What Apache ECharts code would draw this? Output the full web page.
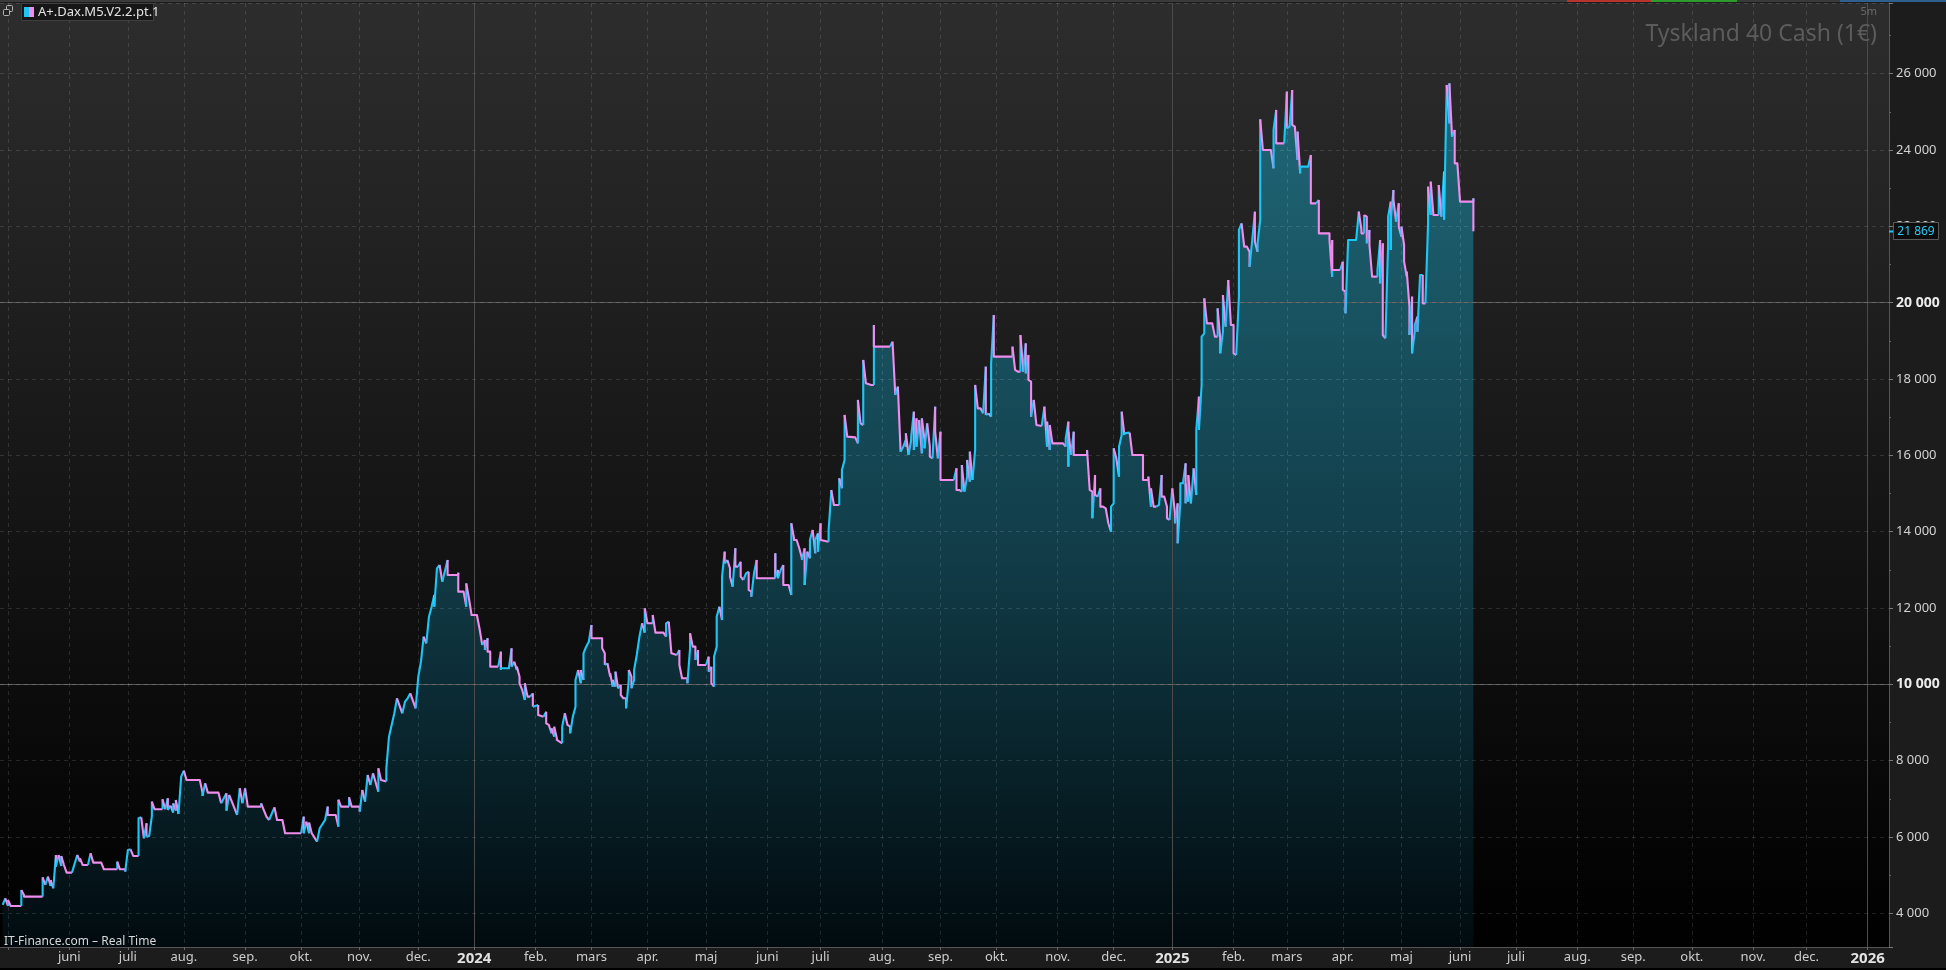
<!DOCTYPE html>
<html><head><meta charset="utf-8">
<script src="https://cdn.jsdelivr.net/npm/echarts@6/dist/echarts.min.js"></script>
<style>html,body{margin:0;padding:0;background:#1c1c1c;overflow:hidden}#c{width:1946px;height:970px}</style>
</head><body><div id="c"></div>
<script>
// ---------- data ----------
const startDate = '2023-04-26';
const endDate = '2026-01-13';
const monthNames = ['jan.','feb.','mars','apr.','maj','juni','juli','aug.','sep.','okt.','nov.','dec.'];
const seriesName = 'A+.Dax.M5.V2.2.pt.1';
const instrument = 'Tyskland 40 Cash (1€)';
const timeframe = '5m';
const sourceText = 'IT-Finance.com – Real Time';
const majorLevels = [10000, 20000];
const lastPrice = 21869;
// trading-day number (index into the weekday calendar starting at startDate)
const dayIndex = [1,2,3,3,4,8,8,9,9,16,16,17,18,19,19,20,21,21,22,23,23,24,25,27,29,30,30,31,33,34,35,38,39,44,44,45,47,47,48,49,50,52,52,53,54,55,55,56,57,57,58,61,61,62,63,63,64,65,65,66,66,67,68,69,70,75,76,76,77,78,82,83,85,85,86,89,90,91,92,93,98,98,100,101,103,104,106,107,113,114,114,115,116,116,117,119,120,122,123,123,126,127,127,128,131,131,132,135,135,136,137,138,139,140,142,142,143,145,145,146,147,148,149,151,152,153,154,156,157,158,159,160,161,162,163,163,164,165,166,168,168,172,172,172,174,175,175,176,177,179,180,
181,182,182,183,183,184,184,187,188,188,188,191,192,192,193,194,194,195,195,196,197,197,198,199,200,200,202,202,204,205,205,206,207,207,208,208,209,209,210,211,211,212,213,214,214,215,216,216,217,218,218,219,219,220,221,222,222,226,226,227,227,228,229,229,230,230,231,231,232,233,233,234,235,235,236,236,237,237,238,238,239,240,241,242,242,243,245,245,246,249,250,250,251,252,254,255,255,256,258,258,259,259,260,261,261,262,262,265,266,266,267,267,268,268,269,269,270,271,271,271,272,272,273,274,274,275,276,276,277,278,278,279,280,281,281,282,282,283,284,284,291,291,291,292,292,293,294,294,296,297,297,298,298,299,300,301,301,302,302,303,304,304,305,306,306,307,307,308,308,311,311,312,312,313,315,315,316,316,317,317,318,321,322,322,323,324,324,325,327,328,328,328,334,335,336,336,337,338,338,339,340,340,340,341,342,342,343,343,344,344,345,346,346,347,347,348,349,349,350,351,351,352,353,353,358,359,359,360,361,361,362,363,363,
364,364,365,366,366,367,368,369,370,370,371,372,372,373,373,380,380,381,382,383,383,384,384,385,385,386,386,387,387,388,389,391,392,393,393,394,394,395,399,400,400,401,401,401,402,403,403,408,408,409,410,410,411,411,412,413,413,414,415,416,417,417,418,418,419,420,420,421,421,422,422,424,425,429,429,431,431,432,432,433,434,435,436,436,437,438,438,439,439,440,441,441,442,442,443,443,444,445,445,445,446,446,447,448,449,449,450,450,451,451,452,452,453,455,456,457,457,458,458,459,459,460,461,462,463,463,464,465,465,466,467,468,469,469,470,471,471,472,472,473,473,474,477,478,478,479,479,482,483,483,484,485,485,486,487,487,488,488,491,492,492,492,494,495,495,495,499,499,500,500,500,503,504,504,505,505,506,509,510,511,511,512,512,513,513,514,514,515,517,517,518,518,519,519,520,521,521,522,522,522,523,523,524,525,525,526,526,527,527,528,528,529,529,530,530,531,531,532,532,533,534,534,535,536,536,537,537,538,540,540,541,542,542,543,544,544,544,545,546,546,547,548,553,553,553];
const values = [4218,4393,4192,4350,4192,4192,4611,4480,4437,4437,4943,4742,4961,4716,4870,4655,5528,5223,5528,5240,5502,5266,5065,5065,5528,5354,5441,5266,5266,5572,5327,5327,5153,5153,5354,5153,5153,5092,5659,5677,5502,5502,6489,6515,5965,6358,6009,6026,6550,6926,6725,6725,6987,6725,7013,6707,6821,6637,6882,6690,6969,6602,7581,7738,7493,7493,7161,7074,7406,7161,7161,6882,7144,6690,7100,6576,7275,6882,7275,6795,6795,6882,6533,6445,6777,6445,6445,6096,6096,6533,6096,6402,6096,6376,6096,5878,6227,6445,6795,6576,6576,6271,6977,6795,6795,7039,6795,6795,6664,7231,6926,7624,7362,7668,7187,7799,7493,7450,7799,8628,8934,9240,9633,9240,9545,9633,9764,9371,10200,10593,11248,11074,11772,12034,12340,12034,13039,13126,12689,13257,12864,12864,12925,12427,12427,12034,12645,12253,11816,11816,11450,
11030,11161,10899,11205,10855,10855,10462,10462,10855,10375,10419,10419,10943,10462,10593,10375,10462,10200,10026,9851,9589,10026,9676,9676,9764,9414,9458,9196,9152,9283,8978,8934,8716,8847,8628,8890,8585,8541,8497,8454,8890,9240,8934,8890,8716,9152,9414,10113,10375,10026,10375,10113,10812,10986,11117,11554,11205,11205,10943,10812,10506,10550,10200,10288,9938,10113,9938,10331,9895,9982,9720,9633,9633,9371,10113,10375,10200,9895,10113,10375,10768,11248,11598,11353,11991,11598,11598,11816,11353,11353,11248,11598,11641,10812,10768,10899,10506,10157,10157,10026,10943,11336,10986,10986,10637,10899,10506,10506,10724,10331,10462,10026,9938,10724,10986,11772,12034,11685,12165,12820,13475,13170,13257,13039,12820,12558,13563,13082,13082,13213,12820,12733,12908,12951,12471,12427,12296,12908,13257,12777,12777,13432,12820,12995,12777,12995,13126,12602,12602,12340,14218,13825,13781,13781,13563,13301,13257,13563,12602,13475,13301,13781,14043,13432,13781,13956,13475,14218,13781,13737,14043,15047,15091,14698,14698,15396,15134,15615,15877,17056,16488,16470,16313,17449,16837,16793,18497,17885,17842,17842,19414,18846,18846,18977,17623,17580,17798,16139,16095,16226,16401,16226,16576,16008,16401,16488,17143,16139,16968,16226,16924,16052,16968,16401,16182,16837,16226,15964,15920,17274,16619,15920,16619,15353,15353,15659,15091,15091,15047,15746,15047,15440,15877,
15309,16095,15353,16139,17842,17230,17230,17100,18322,17056,17100,17012,18409,19675,18584,18584,18846,18235,18191,18191,19152,18278,18191,18933,18147,18628,17973,17929,17012,17449,16794,16767,17274,16226,16881,16139,16794,16313,16313,16226,16444,16881,15702,16619,16008,16619,16008,16008,16139,15091,15047,14349,15484,14960,14916,15134,14654,14654,14611,14218,13999,14654,14742,16183,15921,15440,16226,16532,17143,16532,16576,16593,16008,16008,15353,15353,15440,14654,15134,14654,14654,14698,15484,14916,14916,14654,14349,14305,14349,15134,14480,14218,14742,13694,14742,15266,15266,15790,14742,15266,14786,15484,14742,15659,14960,16663,17536,16663,17842,19108,19195,20112,19457,19457,19108,19108,19850,19064,18671,19239,20200,19370,20593,19414,19414,18671,18628,20156,21903,22077,21466,21466,21335,20942,21641,22383,21597,21335,21553,22164,24802,23999,23999,23518,24523,25047,24173,24173,25527,24566,24610,25571,24654,24610,23736,24479,23387,23562,23562,23868,22994,22601,22601,22689,22339,21815,21815,21641,20680,21641,20855,20855,21073,20331,20287,19719,21641,21641,22383,21903,21815,21815,22295,22252,21553,21903,21510,20680,20680,20855,21641,20505,21553,19152,19064,21553,22252,22645,21379,22164,22950,22689,22121,22601,21990,21728,21990,21510,21073,20680,20811,19894,19152,20156,18671,19239,19414,19632,19239,20724,20724,19981,19981,22077,23038,22295,23169,22295,22295,23082,22252,23431,22164,25702,24697,25658,25745,24348,24523,23649,23649,22645,22645,22732,21869];

// ---------- calendar (weekday categories) ----------
const categories = [];
(function(){
  let d = new Date(startDate + 'T00:00:00Z');
  const e = new Date(endDate + 'T00:00:00Z');
  while (d <= e) {
    const wd = d.getUTCDay();
    if (wd !== 0 && wd !== 6) categories.push(d.toISOString().slice(0, 10));
    d = new Date(d.getTime() + 86400000);
  }
})();
const isMonthStart = i => i > 0 && categories[i].slice(0, 7) !== categories[i - 1].slice(0, 7);
const isYearStart = i => isMonthStart(i) && categories[i].slice(5, 7) === '01';
const yearStarts = categories.filter((c, i) => isYearStart(i));
const fmt = v => String(v).replace(/\B(?=(\d{3})+(?!\d))/g, ' ');

const UP = '#1ec6f6', DOWN = '#f08cec';
const pts = dayIndex.map((d, i) => [d, values[i]]);
const runs = [];
(function(){
  let cur = null, prev = UP;
  for (let i = 0; i < pts.length - 1; i++) {
    const dv = pts[i + 1][1] - pts[i][1];
    const c = dv > 0 ? UP : (dv < 0 ? DOWN : prev);
    prev = c;
    if (!cur || cur.color !== c) { cur = { color: c, coords: [pts[i]] }; runs.push(cur); }
    cur.coords.push(pts[i + 1]);
  }
})();

const chart = echarts.init(document.getElementById('c'), null, { renderer: 'canvas', width: 1946, height: 970 });
const FONT = "'Noto Sans', 'DejaVu Sans', sans-serif";
const GRID_RIGHT_PX = 1946 - 57;

chart.setOption({
  animation: false,
  backgroundColor: '#1c1c1c',
  grid: {
    left: 0, right: 57, top: 3, bottom: 23, show: true, borderWidth: 0,
    backgroundColor: new echarts.graphic.LinearGradient(0, 0, 0, 1, [
      { offset: 0, color: '#2d2d2d' }, { offset: 1, color: '#000000' }])
  },
  xAxis: {
    type: 'category', data: categories, boundaryGap: false, z: 4,
    axisLine: { show: true, lineStyle: { color: '#555' } },
    axisTick: { show: true, length: 3, interval: i => isMonthStart(i), lineStyle: { color: '#666' } },
    axisLabel: {
      interval: i => isMonthStart(i) && i > 10, margin: 4,
      formatter: v => { const m = +v.slice(5, 7); return m === 1 ? '{y|' + v.slice(0, 4) + '}' : '{m|' + monthNames[m - 1] + '}'; },
      rich: {
        m: { color: '#cdcdcd', fontSize: 13, fontFamily: FONT },
        y: { color: '#e2e2e2', fontSize: 15, fontWeight: 'bold', fontFamily: FONT }
      }
    },
    splitLine: { show: true, interval: i => isMonthStart(i) && !isYearStart(i),
      lineStyle: { color: 'rgba(255,255,255,0.12)', type: [4, 4], width: 1 } }
  },
  yAxis: {
    type: 'value', position: 'right', min: 3117, max: 27850, splitNumber: 12,
    minInterval: 2000, maxInterval: 2000, z: 4,
    axisLine: { show: true, lineStyle: { color: '#555' } },
    axisTick: { show: true, length: 4, lineStyle: { color: '#777' } },
    minorTick: { show: true, splitNumber: 2, length: 2, lineStyle: { color: '#666' } },
    splitLine: { show: true, lineStyle: { color: 'rgba(255,255,255,0.12)', type: [4, 4] } },
    axisLabel: {
      showMinLabel: false, showMaxLabel: false, margin: 7,
      formatter: v => majorLevels.includes(v) ? '{b|' + fmt(v) + '}' : '{n|' + fmt(v) + '}',
      rich: {
        n: { color: '#d2d2d2', fontSize: 13, fontFamily: FONT },
        b: { color: '#ececec', fontSize: 14, fontWeight: 'bold', fontFamily: FONT }
      }
    }
  },
  series: [
    {
      type: 'line', data: pts, symbol: 'none', showSymbol: false, z: 2, silent: true,
      lineStyle: { width: 0, opacity: 0 },
      areaStyle: { origin: 'start', opacity: 1,
        color: new echarts.graphic.LinearGradient(0, 0, 0, 1, [
          { offset: 0, color: '#206878' }, { offset: 0.55, color: '#113c48' }, { offset: 1, color: '#010b0f' }]) },
      markLine: {
        silent: true, symbol: ['none', 'none'], z: 3, animation: false,
        label: { show: false },
        lineStyle: { type: 'solid', color: '#4b4b4b', width: 1 },
        data: yearStarts.map(c => ({ xAxis: c })).concat(majorLevels.map(v => ({ yAxis: v, lineStyle: { color: '#575757', type: 'solid', width: 1 } })))
      }
    },
    {
      type: 'lines', coordinateSystem: 'cartesian2d', polyline: true, z: 20, silent: true,
      lineStyle: { width: 2.1, opacity: 1, join: 'round' },
      data: runs.map(r => ({ coords: r.coords, lineStyle: { color: r.color } }))
    }
  ]
});

// price tag placed through the y axis scale
const priceY = Math.round(chart.convertToPixel({ yAxisIndex: 0 }, lastPrice));
chart.setOption({
  graphic: [
    { type: 'rect', shape: { x: 0, y: 0, width: 1946, height: 2 }, style: { fill: '#3a3a3a' }, z: 50 },
    { type: 'rect', shape: { x: 1567, y: 0, width: 84, height: 2 }, style: { fill: '#b8332d' }, z: 51 },
    { type: 'rect', shape: { x: 1651, y: 0, width: 86, height: 2 }, style: { fill: '#2e9b2e' }, z: 51 },
    { type: 'rect', shape: { x: 1840, y: 0, width: 106, height: 2 }, style: { fill: '#2f5f8f' }, z: 51 },
    { type: 'rect', shape: { x: 0, y: 968, width: 1946, height: 2 }, style: { fill: '#000' }, z: 50 },
    // window icon
    { type: 'rect', shape: { x: 6.5, y: 5.5, width: 6, height: 6, r: 1 }, style: { fill: 'none', stroke: '#b5b5b5', lineWidth: 1 }, z: 50 },
    { type: 'rect', shape: { x: 3.5, y: 9.5, width: 6, height: 6, r: 1 }, style: { fill: '#222', stroke: '#b5b5b5', lineWidth: 1 }, z: 51 },
    // legend box
    { type: 'rect', shape: { x: 21.5, y: 3.5, width: 132, height: 17 }, style: { fill: '#161616', stroke: '#3f3f3f', lineWidth: 1 }, z: 50 },
    { type: 'rect', shape: { x: 24, y: 7, width: 5, height: 10 }, style: { fill: UP }, z: 51 },
    { type: 'rect', shape: { x: 29, y: 7, width: 5, height: 10 }, style: { fill: DOWN }, z: 51 },
    { type: 'text', z: 51, style: { text: seriesName, x: 38, y: 12.5, fill: '#e4e4e4', font: '13px ' + FONT,
      textAlign: 'left', textVerticalAlign: 'middle', align: 'left', verticalAlign: 'middle' } },
    // instrument title
    { type: 'text', z: 51, style: { text: instrument, x: 1877, y: 34, fill: '#5c5c5c', font: '23px ' + FONT,
      textAlign: 'right', textVerticalAlign: 'middle', align: 'right', verticalAlign: 'middle' } },
    { type: 'text', z: 51, style: { text: timeframe, x: 1877, y: 12, fill: '#6a6a6a', font: '11px ' + FONT,
      textAlign: 'right', textVerticalAlign: 'middle', align: 'right', verticalAlign: 'middle' } },
    // source
    { type: 'text', z: 51, style: { text: sourceText, x: 4, y: 942, fill: '#d8d8d8', font: '12px ' + FONT,
      textAlign: 'left', textVerticalAlign: 'middle', align: 'left', verticalAlign: 'middle' } },
    // last price tag
    { type: 'rect', z: 60, shape: { x: GRID_RIGHT_PX, y: priceY - 0.5, width: 5, height: 2 }, style: { fill: '#1ec6f6' } },
    { type: 'rect', z: 60, shape: { x: GRID_RIGHT_PX + 4.5, y: priceY - 8.5, width: 45, height: 17 },
      style: { fill: '#0d0d0d', stroke: '#5a5a5a', lineWidth: 1 } },
    { type: 'text', z: 61, style: { text: fmt(lastPrice), x: GRID_RIGHT_PX + 27, y: priceY + 0.5, fill: '#2ec8f6',
      font: '12px ' + FONT, textAlign: 'center', textVerticalAlign: 'middle', align: 'center', verticalAlign: 'middle' } }
  ]
});
</script>
</body></html>
